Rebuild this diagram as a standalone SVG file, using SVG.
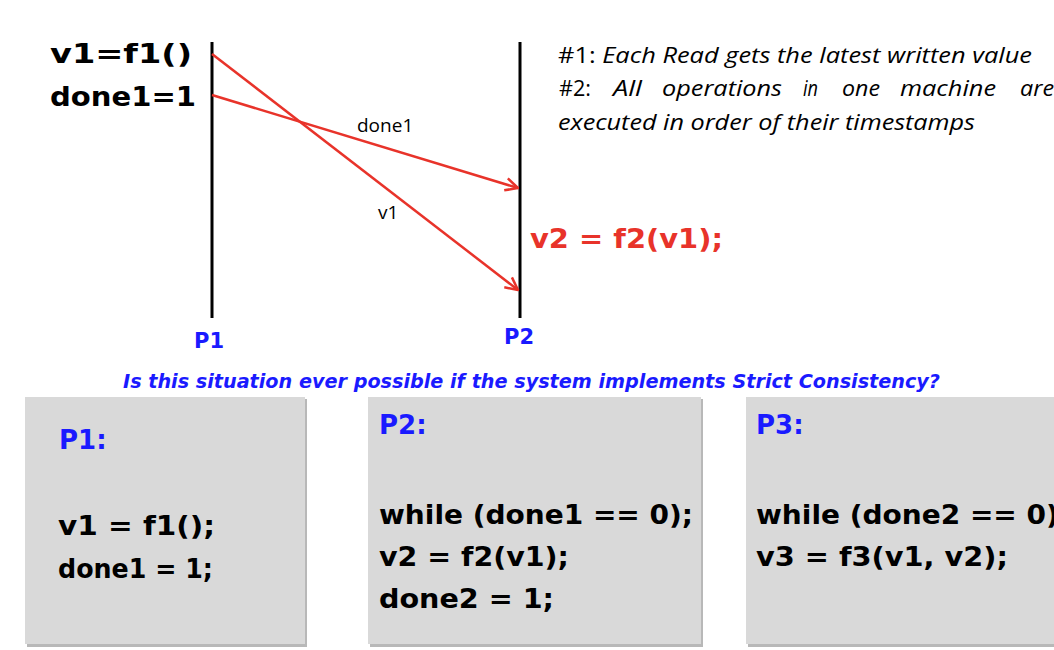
<svg xmlns="http://www.w3.org/2000/svg" width="1054" height="650" viewBox="0 0 1054 650">
<style>
.comic{font-family:"DejaVu Sans","Liberation Sans",sans-serif;font-weight:bold}
.code{font-family:"DejaVu Sans","Liberation Sans",sans-serif;font-weight:bold;font-size:27px;fill:#000}
.blue{fill:#1a1aff}
.note{font-family:"Open Sans","Liberation Sans",sans-serif;font-size:22px;fill:#000}
.it{font-style:italic}
.lbl{font-family:"Open Sans","Liberation Sans",sans-serif;font-size:19px;fill:#000}
.proc{stroke:#000;stroke-width:3}
.msg{stroke:#e8332a;stroke-width:2.5;fill:none;marker-end:url(#ah)}
.box{fill:#d9d9d9}
.shadow{fill:#b8b8b8}
</style>
<defs>
<marker id="ah" viewBox="0 0 12 12" refX="11" refY="6" markerWidth="6" markerHeight="6" orient="auto" markerUnits="strokeWidth">
<path d="M1,1 L11,6 L1,11" fill="none" stroke="#e8332a" stroke-width="2"/>
</marker>
</defs>
<rect width="1054" height="650" fill="#fff"/>

<g id="p1-timeline">
<line class="proc" x1="212" y1="42" x2="212" y2="318"/>
<text class="comic blue" x="194" y="348" font-size="21">P1</text>
</g>
<g id="p2-timeline">
<line class="proc" x1="520" y1="42" x2="520" y2="318"/>
<text class="comic blue" x="504" y="344" font-size="21">P2</text>
</g>
<g id="p1-ops">
<text class="comic" x="50" y="63" font-size="27" textLength="142" lengthAdjust="spacingAndGlyphs">v1=f1()</text>
<text class="comic" x="50" y="106" font-size="27" textLength="146" lengthAdjust="spacingAndGlyphs">done1=1</text>
</g>
<g id="p2-op">
<text class="comic" x="530" y="248" font-size="26" fill="#e8332a" textLength="193" lengthAdjust="spacingAndGlyphs">v2 = f2(v1);</text>
</g>

<g id="connectors">
<line class="msg" x1="212" y1="95" x2="518" y2="188"/>
<line class="msg" x1="212" y1="54" x2="518" y2="290"/>
<text class="lbl" x="357" y="132">done1</text>
<text class="lbl" x="378" y="219">v1</text>
</g>

<g id="rules">
<text class="note" x="558" y="63" textLength="474" lengthAdjust="spacingAndGlyphs">#1: <tspan class="it">Each Read gets the latest written value</tspan></text>
<text class="note" x="559" y="96" textLength="32" lengthAdjust="spacingAndGlyphs">#2:</text>
<text class="note it" x="613" y="96" textLength="29" lengthAdjust="spacingAndGlyphs">All</text>
<text class="note it" x="662" y="96" textLength="120" lengthAdjust="spacingAndGlyphs">operations</text>
<text class="note it" x="803" y="96" textLength="15" lengthAdjust="spacingAndGlyphs">in</text>
<text class="note it" x="842" y="96" textLength="38" lengthAdjust="spacingAndGlyphs">one</text>
<text class="note it" x="900" y="96" textLength="96" lengthAdjust="spacingAndGlyphs">machine</text>
<text class="note it" x="1020" y="96" textLength="34" lengthAdjust="spacingAndGlyphs">are</text>
<text class="note it" x="558" y="130" textLength="417" lengthAdjust="spacingAndGlyphs">executed in order of their timestamps</text>
</g>

<g id="question">
<text class="comic it blue" x="123" y="388" font-size="19" font-weight="normal" textLength="817" lengthAdjust="spacingAndGlyphs">Is this situation ever possible if the system implements Strict Consistency?</text>
</g>

<g id="box-p1">
<rect class="shadow" x="27" y="399" width="280" height="248"/>
<rect class="box" x="25" y="397" width="280" height="247"/>
<text class="comic blue" x="59" y="449" font-size="26">P1:</text>
<text class="code" x="58" y="535" textLength="157" lengthAdjust="spacingAndGlyphs">v1 = f1();</text>
<text class="code" x="58" y="578" textLength="155" lengthAdjust="spacingAndGlyphs">done1 = 1;</text>
</g>
<g id="box-p2">
<rect class="shadow" x="370" y="399" width="333" height="248"/>
<rect class="box" x="368" y="397" width="333" height="247"/>
<text class="comic blue" x="379" y="434" font-size="26">P2:</text>
<text class="code" x="379" y="524" textLength="314" lengthAdjust="spacingAndGlyphs">while (done1 == 0);</text>
<text class="code" x="379" y="566" textLength="190" lengthAdjust="spacingAndGlyphs">v2 = f2(v1);</text>
<text class="code" x="379" y="608" textLength="175" lengthAdjust="spacingAndGlyphs">done2 = 1;</text>
</g>
<g id="box-p3">
<rect class="shadow" x="748" y="399" width="310" height="248"/>
<rect class="box" x="746" y="397" width="310" height="247"/>
<text class="comic blue" x="756" y="434" font-size="26">P3:</text>
<text class="code" x="756" y="524" textLength="314" lengthAdjust="spacingAndGlyphs">while (done2 == 0);</text>
<text class="code" x="756" y="566" textLength="252" lengthAdjust="spacingAndGlyphs">v3 = f3(v1, v2);</text>
</g>
</svg>
